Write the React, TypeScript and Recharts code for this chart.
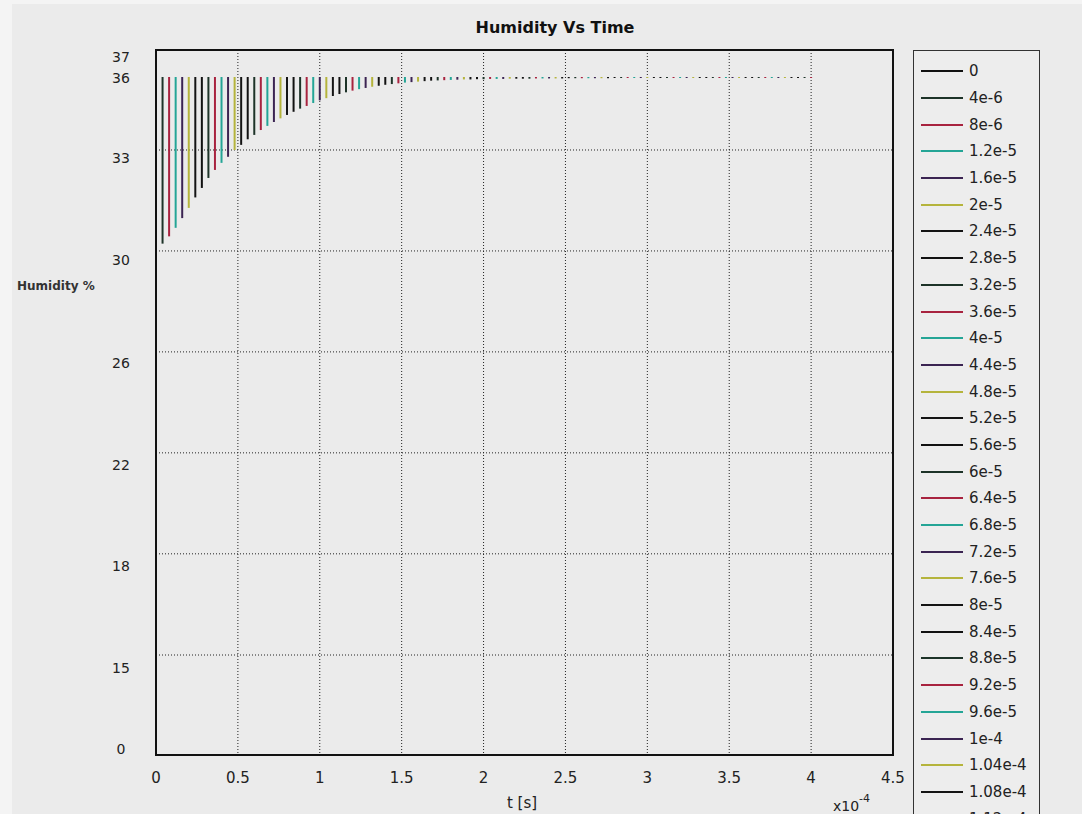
import { LineChart, Line, XAxis, YAxis, CartesianGrid, Legend, ReferenceArea } from "recharts";

// legend names = sample times (s)
const seriesNames = [
  "0", "4e-6", "8e-6", "1.2e-5", "1.6e-5", "2e-5", "2.4e-5", "2.8e-5", "3.2e-5", "3.6e-5",
  "4e-5", "4.4e-5", "4.8e-5", "5.2e-5", "5.6e-5", "6e-5", "6.4e-5", "6.8e-5", "7.2e-5", "7.6e-5",
  "8e-5", "8.4e-5", "8.8e-5", "9.2e-5", "9.6e-5", "1e-4", "1.04e-4", "1.08e-4", "1.12e-4", "1.16e-4",
  "1.2e-4", "1.24e-4", "1.28e-4", "1.32e-4", "1.36e-4", "1.4e-4", "1.44e-4", "1.48e-4", "1.52e-4", "1.56e-4",
  "1.6e-4", "1.64e-4", "1.68e-4", "1.72e-4", "1.76e-4", "1.8e-4", "1.84e-4", "1.88e-4", "1.92e-4", "1.96e-4",
  "2e-4", "2.04e-4", "2.08e-4", "2.12e-4", "2.16e-4", "2.2e-4", "2.24e-4", "2.28e-4", "2.32e-4", "2.36e-4",
  "2.4e-4", "2.44e-4", "2.48e-4", "2.52e-4", "2.56e-4", "2.6e-4", "2.64e-4", "2.68e-4", "2.72e-4", "2.76e-4",
  "2.8e-4", "2.84e-4", "2.88e-4", "2.92e-4", "2.96e-4", "3e-4", "3.04e-4", "3.08e-4", "3.12e-4", "3.16e-4",
  "3.2e-4", "3.24e-4", "3.28e-4", "3.32e-4", "3.36e-4", "3.4e-4", "3.44e-4", "3.48e-4", "3.52e-4", "3.56e-4",
  "3.6e-4", "3.64e-4", "3.68e-4", "3.72e-4", "3.76e-4", "3.8e-4", "3.84e-4", "3.88e-4", "3.92e-4", "3.96e-4",
  "4e-4",
];

// lowest humidity of each stem
const humidityMin = [
  28.95, 29.15, 29.45, 29.8, 30.2, 30.62, 31.05, 31.44, 31.85, 32.18,
  32.47, 32.72, 33.0, 33.21, 33.44, 33.62, 33.82, 33.99, 34.15, 34.3,
  34.44, 34.57, 34.7, 34.81, 34.93, 35.04, 35.13, 35.22, 35.3, 35.37,
  35.44, 35.5, 35.55, 35.6, 35.64, 35.68, 35.71, 35.74, 35.77, 35.79,
  35.81, 35.83, 35.85, 35.86, 35.87, 35.88, 35.89, 35.9, 35.9, 35.91,
  35.91, 35.92, 35.92, 35.92, 35.93, 35.93, 35.93, 35.93, 35.94, 35.94,
  35.94, 35.94, 35.94, 35.95, 35.95, 35.95, 35.95, 35.95, 35.95, 35.95,
  35.96, 35.96, 35.96, 35.96, 35.96, 35.96, 35.96, 35.96, 35.96, 35.96,
  35.96, 35.96, 35.96, 35.96, 35.96, 35.96, 35.96, 35.96, 35.96, 35.96,
  35.96, 35.96, 35.96, 35.96, 35.96, 35.96, 35.96, 35.96, 35.96, 35.96,
  35.96,
];
const humidityTop = 36;

const xTicks = [0, 0.00005, 0.0001, 0.00015, 0.0002, 0.00025, 0.0003, 0.00035, 0.0004, 0.00045];
const xGrid = [0.00005, 0.0001, 0.00015, 0.0002, 0.00025, 0.0003, 0.00035, 0.0004];

const yTickLabels = ["0", "15", "18", "22", "26", "30", "33", "36", "37"];
const yTickPos = [8.38, 11.71, 15.9, 20.05, 24.25, 28.48, 32.67, 35.96, 36.82];
const yGrid = [12.24, 16.4, 20.55, 24.7, 28.85, 33];
const yDomain = [8.13, 37.11];

const palette = ["#111111", "#1d3328", "#a8233f", "#24a596", "#3b2452", "#b5b43c", "#141414"];

const font = "'DejaVu Sans', Verdana, sans-serif";

const YTick = (props: any) => (
  <text x={props.x - 35} y={props.y} dy={5} textAnchor="middle" fontSize={14} fill="#222" fontFamily={font}>
    {yTickLabels[props.index]}
  </text>
);

// the legend runs past the bottom of the window, as in the reference
const LegendBox = () => (
  <div
    style={{
      border: "1px solid #333",
      width: 125,
      paddingTop: 7,
      fontFamily: font,
      fontSize: 15,
      color: "#222",
      background: "#ededed",
    }}
  >
    {seriesNames.map((n, i) => (
      <div key={n} style={{ display: "flex", alignItems: "center", height: 26.7 }}>
        <span style={{ display: "inline-block", marginLeft: 7, width: 42, height: 2, background: palette[i % 7] }} />
        <span style={{ marginLeft: 6, lineHeight: "16px" }}>{n}</span>
      </div>
    ))}
  </div>
);

export default function App() {
  return (
    <div style={{ position: "absolute", left: 0, top: 0, width: 1082, height: 814, overflow: "hidden", background: "#f4f4f4" }}>
      <div style={{ position: "absolute", left: 12, top: 4, width: 1070, height: 810, background: "#ebebeb" }} />
      <div style={{ position: "absolute", left: 0, top: 0 }}>
        <LineChart width={1082} height={814} margin={{ top: 50, right: 189, bottom: 29, left: 96 }}>
          <CartesianGrid
            xAxisId="b"
            yAxisId="l"
            verticalValues={xGrid}
            horizontalValues={yGrid}
            stroke="#222"
            strokeDasharray="1 2"
          />
          <XAxis
            xAxisId="b"
            type="number"
            dataKey="t"
            domain={[0, 0.00045]}
            ticks={xTicks}
            interval={0}
            allowDataOverflow
            tickFormatter={(v: number) => String(Math.round(v * 1e5) / 10)}
            tickLine={false}
            tickSize={0}
            tickMargin={17}
            height={30}
            axisLine={{ stroke: "#111", strokeWidth: 2 }}
            tick={{ fontSize: 15, fill: "#222", fontFamily: font }}
          />
          <XAxis
            xAxisId="t"
            orientation="top"
            type="number"
            dataKey="t"
            domain={[0, 0.00045]}
            ticks={xGrid}
            interval={0}
            allowDataOverflow
            height={1}
            mirror
            tick={false}
            tickSize={4}
            tickLine={{ stroke: "#111" }}
            axisLine={false}
          />
          <YAxis
            yAxisId="l"
            type="number"
            domain={yDomain}
            ticks={yTickPos}
            interval={0}
            allowDataOverflow
            width={60}
            tickLine={false}
            tickSize={0}
            tickMargin={0}
            tick={YTick}
            axisLine={{ stroke: "#111", strokeWidth: 2 }}
            label={{ value: "Humidity %", position: "insideLeft", content: () => (
              <text x={17} y={290} fontSize={12} fontWeight="bold" fill="#333" fontFamily={font}>Humidity %</text>
            ) }}
          />
          <ReferenceArea
            xAxisId="b"
            yAxisId="l"
            x1={0}
            x2={0.00045}
            y1={yDomain[0]}
            y2={yDomain[1]}
            fill="none"
            fillOpacity={0}
            stroke="#111"
            strokeWidth={2}
            ifOverflow="visible"
          />
          {seriesNames.map((n, i) => (
            <Line
              key={n}
              xAxisId="b"
              yAxisId="l"
              name={n}
              data={[
                { t: Number(n), h: humidityMin[i] },
                { t: Number(n), h: humidityTop },
              ]}
              dataKey="h"
              stroke={palette[i % 7]}
              strokeWidth={2}
              dot={false}
              activeDot={false}
              isAnimationActive={false}
            />
          ))}
          <Legend
            layout="vertical"
            align="center"
            verticalAlign="middle"
            wrapperStyle={{ position: "absolute", left: 913, top: 50, width: 127 }}
            content={() => <LegendBox />}
          />
          <text x={555} y={33} textAnchor="middle" fontSize={16} fontWeight="bold" fill="#111" fontFamily={font}>
            Humidity Vs Time
          </text>
          <text x={522} y={808} textAnchor="middle" fontSize={15} fill="#222" fontFamily={font}>
            t [s]
          </text>
          <text x={833} y={811} fontSize={14} fill="#222" fontFamily={font}>
            x10<tspan dy={-9} fontSize={11}>-4</tspan>
          </text>
        </LineChart>
      </div>
    </div>
  );
}
